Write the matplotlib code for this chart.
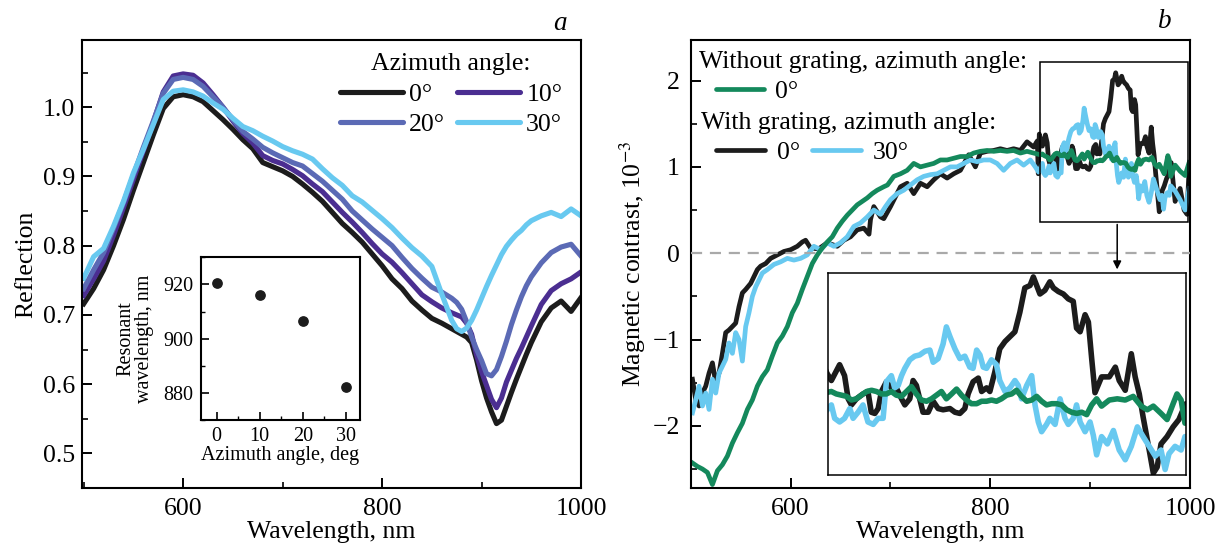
import matplotlib
matplotlib.use("Agg")
import matplotlib.pyplot as plt
from matplotlib.ticker import MultipleLocator, FormatStrFormatter
from matplotlib.lines import Line2D
from matplotlib.patches import Rectangle

plt.rcParams['font.family'] = ['Liberation Serif', 'DejaVu Serif']
plt.rcParams['mathtext.fontset'] = 'stix'
SERIF = 'Liberation Serif'
FS = 18.5
FS_IN = 14.5

# ---------------- panel a: reflection spectra ----------------
wl_a = [500, 510, 520, 530, 540, 550, 560, 570, 580, 590, 600, 610, 620, 630, 640,
        650, 660, 670, 680, 690, 700, 710, 720, 730, 740, 750, 760, 770, 780, 790,
        800, 810, 820, 830, 840, 850, 860, 870, 875, 880, 885, 890, 895, 900, 905,
        910, 915, 920, 925, 930, 935, 940, 945, 950, 960, 970, 980, 990, 1000]
refl_0 = [0.716, 0.738, 0.765, 0.800, 0.838, 0.880, 0.920, 0.960, 0.998, 1.015, 1.018, 1.015, 1.008, 0.995, 0.982,
          0.968, 0.953, 0.940, 0.920, 0.914, 0.908, 0.900, 0.889, 0.877, 0.864, 0.848, 0.832, 0.819, 0.805, 0.788,
          0.771, 0.752, 0.738, 0.720, 0.707, 0.695, 0.688, 0.680, 0.676, 0.672, 0.668, 0.660, 0.635, 0.605, 0.580,
          0.560, 0.543, 0.548, 0.568, 0.588, 0.607, 0.625, 0.643, 0.660, 0.690, 0.710, 0.720, 0.705, 0.725]
refl_10 = [0.728, 0.752, 0.778, 0.815, 0.855, 0.896, 0.937, 0.978, 1.022, 1.045, 1.048, 1.046, 1.035, 1.018, 1.000,
           0.980, 0.962, 0.948, 0.930, 0.923, 0.918, 0.910, 0.901, 0.889, 0.878, 0.863, 0.848, 0.834, 0.819, 0.803,
           0.788, 0.776, 0.761, 0.745, 0.729, 0.719, 0.710, 0.703, 0.700, 0.697, 0.688, 0.672, 0.642, 0.618, 0.598,
           0.578, 0.566, 0.580, 0.603, 0.620, 0.637, 0.652, 0.668, 0.684, 0.715, 0.735, 0.745, 0.752, 0.762]
refl_20 = [0.738, 0.765, 0.790, 0.825, 0.862, 0.902, 0.942, 0.980, 1.020, 1.040, 1.043, 1.040, 1.030, 1.015, 1.000,
           0.982, 0.965, 0.954, 0.942, 0.934, 0.927, 0.920, 0.915, 0.904, 0.893, 0.880, 0.867, 0.850, 0.837, 0.824,
           0.812, 0.800, 0.783, 0.767, 0.753, 0.740, 0.733, 0.724, 0.718, 0.708, 0.690, 0.668, 0.650, 0.634, 0.615,
           0.612, 0.621, 0.640, 0.662, 0.686, 0.707, 0.726, 0.742, 0.755, 0.775, 0.790, 0.798, 0.802, 0.785]
refl_30 = [0.753, 0.784, 0.796, 0.828, 0.864, 0.905, 0.939, 0.975, 1.011, 1.023, 1.025, 1.022, 1.016, 1.006, 0.997,
           0.984, 0.972, 0.966, 0.958, 0.951, 0.943, 0.937, 0.932, 0.925, 0.911, 0.898, 0.887, 0.872, 0.863, 0.851,
           0.839, 0.826, 0.811, 0.797, 0.785, 0.770, 0.730, 0.692, 0.680, 0.676, 0.681, 0.692, 0.707, 0.724, 0.741,
           0.757, 0.772, 0.787, 0.799, 0.808, 0.816, 0.822, 0.830, 0.836, 0.843, 0.848, 0.842, 0.853, 0.843]

azimuth = [0, 10, 20, 30]
res_wl = [920.5, 916, 906.5, 882]

# ---------------- panel b: magnetic contrast ----------------
wl_green = [501.7, 506.7, 511.7, 516.7, 521.7, 526.7, 531.7, 536.7, 541.7, 546.7, 551.7, 556.7, 561.7,
            566.7, 571.7, 576.7, 581.7, 586.7, 591.7, 596.7, 601.7, 606.7, 611.7, 616.7, 621.7, 626.7,
            631.7, 636.7, 641.7, 646.7, 651.7, 656.7, 661.7, 666.7, 671.7, 676.7, 681.7, 686.7, 693.3,
            697.0, 703.3, 710.0, 716.7, 723.3, 730.0, 736.7, 743.3, 750.0, 756.7, 763.3, 770.0, 776.7,
            783.3, 790.0, 796.7, 803.3, 810.0, 816.7, 823.3, 830.0, 836.7, 843.3, 850.0,
            852.1, 853.9, 855.7, 857.6, 859.4, 861.2, 863.0, 864.9, 866.7, 868.5, 870.3, 872.1, 873.9,
            875.7, 877.6, 879.4, 881.2, 883.0, 884.8, 886.7, 888.5, 890.3, 892.1, 893.9, 895.8, 897.6,
            899.4, 901.2, 903.0, 904.9, 906.7, 908.5, 910.3, 912.1, 913.9, 915.8, 917.6, 919.4, 921.2,
            923.1, 924.9, 926.7, 928.5, 930.3, 932.2, 934.0, 935.8, 937.6, 939.4, 941.3, 943.1, 944.9,
            946.7, 948.5, 950.3, 953.1, 956.0, 958.9, 961.8, 964.7, 966.9, 969.1, 971.9, 974.1, 976.3,
            977.7, 979.2, 980.6, 985.0, 990.0, 995.0, 999.0]
mc_green = [-2.43, -2.47, -2.50, -2.54, -2.68, -2.52, -2.45, -2.35, -2.20, -2.08, -1.97, -1.81, -1.70,
            -1.54, -1.43, -1.35, -1.19, -1.04, -0.96, -0.85, -0.69, -0.58, -0.42, -0.27, -0.12, -0.02,
            0.06, 0.13, 0.19, 0.29, 0.37, 0.44, 0.50, 0.56, 0.60, 0.64, 0.69, 0.73, 0.77,
            0.79, 0.89, 0.92, 0.96, 1.04, 1.00, 1.02, 1.04, 1.08, 1.08, 1.10, 1.12, 1.12,
            1.16, 1.18, 1.19, 1.18, 1.19, 1.18, 1.19, 1.16, 1.18, 1.16, 1.14,
            1.15, 1.13, 1.12, 1.11, 1.08, 1.09, 1.12, 1.15, 1.16, 1.15, 1.13, 1.13, 1.15,
            1.12, 1.11, 1.15, 1.19, 1.13, 1.08, 1.07, 1.09, 1.12, 1.15, 1.09, 1.13, 1.17,
            1.12, 1.08, 1.05, 1.05, 1.07, 1.07, 1.08, 1.07, 1.09, 1.12, 1.13, 1.16, 1.11,
            1.07, 1.08, 1.11, 1.07, 1.04, 1.05, 1.05, 1.04, 1.00, 0.98, 0.97, 0.98, 0.96,
            1.04, 1.09, 1.03, 1.08, 1.09, 1.08, 1.11, 1.03, 1.00, 1.03, 0.97, 0.92, 1.05,
            1.13, 1.08, 0.89, 1.02, 0.95, 0.90, 1.05]

wl_black = [501.7, 505.0, 508.3, 511.7, 515.0, 518.3, 521.7, 525.0, 528.3, 531.7, 535.0, 538.3, 541.7,
            545.0, 548.3, 551.7, 555.0, 560.0, 563.3, 566.7, 570.0, 575.0, 580.0, 586.7, 593.3, 600.0,
            606.7, 611.7, 615.0, 620.0, 628.0, 636.7, 646.7, 653.3, 660.0, 666.7, 673.3, 678.5, 680.0,
            683.3, 690.0, 693.3, 700.0, 710.0, 716.7, 723.3, 730.0, 736.7, 743.3, 750.0, 756.7, 763.3,
            770.0, 778.3, 785.0, 790.0, 796.7, 803.3, 810.0, 816.7, 823.3, 830.0, 836.7, 843.3, 847.0,
            848.0, 849.0, 850.5,
            852.1, 855.1, 856.9, 858.2, 859.4, 861.2, 863.6, 865.4, 866.6, 867.9, 869.1, 870.3, 872.1,
            873.9, 875.7, 877.6, 878.8, 880.6, 881.8, 883.0, 884.2, 885.4, 887.3, 889.1, 890.9, 892.7,
            895.2, 897.0, 898.8, 900.6, 901.8, 903.6, 905.5, 906.7, 908.5, 909.7, 911.5, 913.3, 915.2,
            917.0, 918.8, 920.6, 922.4, 924.3, 925.5, 926.7, 927.9, 929.7, 931.5, 932.8, 934.6, 936.4,
            938.2, 940.0, 941.2, 942.5, 944.3, 945.5, 946.7, 947.9, 950.3, 953.1, 955.3, 956.7, 958.9,
            961.1, 962.5, 964.0, 965.4, 967.6, 969.1, 970.5, 971.9, 974.1, 976.3, 978.4, 979.9, 981.0,
            985.0, 990.0, 994.0, 997.0, 999.0]
mc_black = [-1.46, -1.70, -1.77, -1.62, -1.54, -1.39, -1.27, -1.50, -1.39, -1.16, -0.92, -0.89, -0.85,
            -0.81, -0.62, -0.46, -0.42, -0.35, -0.27, -0.19, -0.15, -0.12, -0.06, -0.02, 0.02, 0.04,
            0.08, 0.13, 0.15, 0.06, 0.05, 0.12, 0.08, 0.15, 0.19, 0.27, 0.29, 0.22, 0.39,
            0.54, 0.42, 0.40, 0.54, 0.77, 0.81, 0.69, 0.81, 0.77, 0.85, 0.92, 0.87, 0.92,
            0.96, 1.14, 1.00, 1.16, 1.18, 1.19, 1.21, 1.19, 1.21, 1.19, 1.29, 1.23, 1.30,
            0.92, 1.38, 1.30,
            1.24, 1.37, 1.28, 1.09, 1.04, 1.09, 1.13, 1.15, 0.98, 0.97, 1.01, 1.15, 1.23,
            1.18, 1.18, 1.09, 1.04, 1.09, 1.24, 1.20, 1.09, 0.98, 0.98, 1.07, 1.01, 1.00,
            1.01, 0.98, 0.97, 1.01, 1.13, 1.23, 1.26, 1.15, 1.18, 1.15, 1.31, 1.50, 1.56,
            1.60, 1.64, 1.80, 2.00, 2.02, 2.09, 2.02, 1.95, 1.98, 2.05, 2.00, 1.97, 1.95,
            1.91, 1.89, 1.67, 1.64, 1.78, 1.72, 1.42, 1.14, 1.27, 1.27, 1.35, 1.24, 1.16,
            1.46, 1.27, 1.13, 0.94, 0.67, 0.48, 0.53, 0.72, 0.78, 0.86, 0.92, 1.00, 1.05,
            0.60, 0.75, 0.50, 0.45, 1.00]

wl_blue = [501.7, 505.0, 508.3, 511.7, 515.0, 518.3, 521.7, 525.0, 528.3, 531.7, 535.0, 538.3, 541.7,
           545.0, 548.3, 551.7, 555.0, 558.3, 561.7, 565.0, 568.3, 571.7, 576.7, 583.3, 590.0, 596.7,
           603.3, 610.0, 616.7, 623.3, 630.0, 636.7, 643.3, 650.0, 656.7, 663.3, 670.0, 676.7, 683.3,
           690.0, 695.0, 700.0, 706.7, 713.3, 720.0, 726.7, 733.3, 740.0, 746.7, 753.3, 760.0, 766.7,
           773.3, 780.0, 786.7, 793.3, 800.0, 806.7, 813.3, 820.0, 826.7, 833.3, 840.0, 845.0, 848.3,
           852.1, 853.3, 855.1, 856.9, 858.8, 860.0, 861.8, 863.6, 865.4, 867.3, 869.1, 870.9, 872.1,
           873.9, 875.1, 876.4, 877.6, 878.8, 880.6, 882.4, 884.2, 886.1, 887.9, 889.1, 890.9, 892.7,
           893.9, 895.2, 897.0, 898.8, 900.6, 902.4, 903.6, 904.9, 906.1, 907.3, 908.5, 910.3, 912.1,
           913.3, 915.2, 917.0, 918.8, 920.0, 921.2, 923.1, 924.9, 926.1, 927.3, 928.5, 930.3, 931.5,
           933.4, 935.2, 937.0, 938.2, 940.0, 941.2, 942.5, 944.3, 946.1, 947.3, 948.5, 950.3, 952.4,
           954.6, 956.7, 958.9, 961.1, 963.3, 965.4, 967.6, 969.8, 971.9, 973.4, 974.8, 977.0, 979.2,
           980.6, 985.0, 990.0, 995.0, 999.0]
mc_blue = [-1.85, -1.70, -1.54, -1.77, -1.62, -1.81, -1.46, -1.62, -1.39, -1.31, -1.23, -1.04, -1.16,
           -0.92, -1.00, -1.25, -0.85, -0.69, -0.50, -0.39, -0.31, -0.23, -0.19, -0.13, -0.10, -0.06,
           -0.08, -0.06, -0.02, 0.08, 0.04, 0.12, 0.08, 0.12, 0.19, 0.31, 0.35, 0.42, 0.50,
           0.45, 0.54, 0.62, 0.69, 0.73, 0.79, 0.85, 0.89, 0.91, 0.92, 0.96, 1.00, 1.00,
           1.04, 1.08, 1.06, 1.08, 1.08, 1.04, 0.96, 1.04, 1.08, 1.02, 1.08, 1.00, 0.94,
           1.04, 0.93, 0.90, 0.93, 1.01, 0.93, 0.98, 1.04, 0.90, 0.88, 0.93, 0.93, 1.23,
           1.28, 1.18, 1.20, 1.28, 1.34, 1.41, 1.44, 1.45, 1.48, 1.49, 1.39, 1.42, 1.54,
           1.68, 1.60, 1.50, 1.42, 1.44, 1.35, 1.34, 1.49, 1.45, 1.35, 1.34, 1.41, 1.37,
           1.24, 1.15, 1.18, 1.24, 1.20, 1.09, 1.20, 1.28, 1.04, 0.90, 0.82, 0.88, 0.93,
           0.88, 1.09, 0.93, 0.88, 0.93, 1.04, 0.90, 0.82, 0.90, 0.79, 0.63, 0.78, 0.72,
           0.83, 0.67, 0.59, 0.70, 0.86, 0.78, 0.70, 0.62, 0.67, 0.51, 0.64, 0.70, 0.67,
           0.78, 0.72, 0.62, 0.50, 0.75]

C0 = '#1c1c1c'
C10 = '#4b2e91'
C20 = '#5b6ab5'
C30 = '#68c9f0'
CG = '#14895c'


def style_axis(ax, ypad):
    for s in ax.spines.values():
        s.set_linewidth(1.5)
    ax.tick_params(which='both', direction='in', top=False, right=False,
                   labelsize=FS, labelfontfamily=SERIF)
    ax.tick_params(which='major', length=7, width=1.4)
    ax.tick_params(which='minor', length=4, width=1.2)
    ax.tick_params(axis='x', pad=7)
    ax.tick_params(axis='y', pad=ypad)
    ax.xaxis.set_major_locator(MultipleLocator(200))
    ax.xaxis.set_minor_locator(MultipleLocator(100))
    ax.set_xlabel("Wavelength, nm", fontsize=FS, labelpad=1)


def key(color, width):
    return Line2D([], [], color=color, lw=width, solid_capstyle='round')


fig = plt.figure(figsize=(12.23, 5.56), dpi=100)

# ---- panel a ----
ax_a = fig.add_axes([0.0668, 0.1223, 0.4083, 0.8058])
lw = 3.7
ax_a.plot(wl_a, refl_0, color=C0, lw=lw)
ax_a.plot(wl_a, refl_10, color=C10, lw=lw)
ax_a.plot(wl_a, refl_20, color=C20, lw=lw)
ax_a.plot(wl_a, refl_30, color=C30, lw=lw)
ax_a.set_xlim(498, 1000)
ax_a.set_ylim(0.45, 1.097)
style_axis(ax_a, 5)
ax_a.yaxis.set_major_locator(MultipleLocator(0.1))
ax_a.yaxis.set_minor_locator(MultipleLocator(0.05))
ax_a.yaxis.set_major_formatter(FormatStrFormatter('%.1f'))
ax_a.set_ylabel("Reflection", fontsize=FS, labelpad=4)
ax_a.legend(handles=[key(C0, lw), key(C20, lw), key(C10, lw), key(C30, lw)],
            labels=["0°", "20°", "10°", "30°"],
            ncol=2, title="Azimuth angle:", fontsize=FS, title_fontsize=FS,
            loc='upper right', bbox_to_anchor=(0.988, 1.0), frameon=False,
            borderpad=0, handlelength=2.45, handletextpad=0.25, columnspacing=0.45,
            labelspacing=0.3)
ax_a.text(0.957, 1.037, "a", transform=ax_a.transAxes, fontsize=FS + 1,
          style='italic', ha='center', va='center')

# inset a
ins_a = fig.add_axes([0.1641, 0.2446, 0.1303, 0.2926])
ins_a.scatter(azimuth, res_wl, s=45, color=C0, zorder=3)
ins_a.set_xlim(-3.7, 33.3)
ins_a.set_ylim(870, 930)
for s in ins_a.spines.values():
    s.set_linewidth(1.5)
ins_a.tick_params(which='both', direction='in', top=False, right=False, labelsize=FS_IN,
                  pad=5, labelfontfamily=SERIF)
ins_a.tick_params(which='major', length=6, width=1.2)
ins_a.tick_params(which='minor', length=3, width=1.0)
ins_a.xaxis.set_major_locator(MultipleLocator(10))
ins_a.xaxis.set_minor_locator(MultipleLocator(5))
ins_a.yaxis.set_major_locator(MultipleLocator(20))
ins_a.yaxis.set_minor_locator(MultipleLocator(10))
ins_a.set_xlabel("Azimuth angle, deg", fontsize=FS_IN, labelpad=0)
ins_a.set_ylabel("Resonant\nwavelength, nm", fontsize=FS_IN, labelpad=7, linespacing=0.95)

# ---- panel b ----
ax_b = fig.add_axes([0.5648, 0.1223, 0.4083, 0.8058])
lb = 3.4
ax_b.plot(wl_black, mc_black, color=C0, lw=lb)
ax_b.plot(wl_blue, mc_blue, color=C30, lw=lb)
ax_b.plot(wl_green, mc_green, color=CG, lw=lb)
ax_b.axhline(0, color='#a9a9a9', lw=1.6, ls=(0, (5, 3.5)), zorder=4)
ax_b.set_xlim(500, 1000)
ax_b.set_ylim(-2.72, 2.47)
style_axis(ax_b, 8)
ax_b.yaxis.set_major_locator(MultipleLocator(1))
ax_b.yaxis.set_minor_locator(MultipleLocator(0.5))
ax_b.set_ylabel(r"Magnetic contrast, 10$^{-3}$", fontsize=FS, labelpad=3)
ax_b.text(0.95, 1.041, "b", transform=ax_b.transAxes, fontsize=FS + 1,
          style='italic', ha='center', va='center')

# legend of panel b: two headed groups
ax_b.text(0.016, 0.951, "Without grating, azimuth angle:", transform=ax_b.transAxes,
          fontsize=FS, ha='left', va='center')
ax_b.text(0.021, 0.815, "With grating, azimuth angle:", transform=ax_b.transAxes,
          fontsize=FS, ha='left', va='center')
leg1 = ax_b.legend(handles=[key(CG, lb)], labels=["0°"],
                   loc='center left', bbox_to_anchor=(0.025, 0.886), frameon=False,
                   fontsize=FS, borderpad=0, handlelength=1.85, handletextpad=0.46)
ax_b.add_artist(leg1)
ax_b.legend(handles=[key(C0, lb), key(C30, lb)],
            labels=["0°", "30°"], ncol=2, loc='center left', bbox_to_anchor=(0.024, 0.748),
            frameon=False, fontsize=FS, borderpad=0, handlelength=1.93,
            handletextpad=0.46, columnspacing=0.45)

# zoom box, arrow and inset b
ax_b.add_patch(Rectangle((850, 0.365), 148, 1.845, fill=False, lw=1.1, ec='black', zorder=5))
ax_b.annotate("", xy=(927, -0.22), xytext=(927, 0.365),
              arrowprops=dict(arrowstyle='-|>', color='black', lw=1.1, mutation_scale=12),
              zorder=5)

ins_b = fig.add_axes([0.6773, 0.1457, 0.2925, 0.3628])
li = 4.0
ins_b.plot(wl_black, mc_black, color=C0, lw=li)
ins_b.plot(wl_blue, mc_blue, color=C30, lw=li)
ins_b.plot(wl_green, mc_green, color=CG, lw=li)
ins_b.set_xlim(851, 981)
ins_b.set_ylim(0.465, 2.12)
ins_b.set_xticks([])
ins_b.set_yticks([])
for s in ins_b.spines.values():
    s.set_linewidth(1.1)

fig.savefig("out.png", dpi=100)
